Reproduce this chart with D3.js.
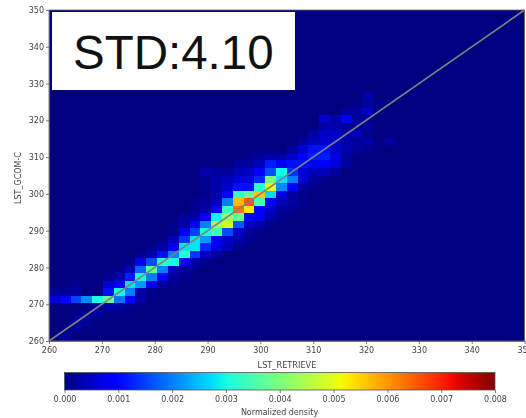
<!DOCTYPE html>
<html><head><meta charset="utf-8">
<script src="https://cdn.jsdelivr.net/npm/d3@7"></script>
<style>html,body{margin:0;padding:0;background:#fff;overflow:hidden}svg{display:block;filter:blur(.35px)}text{font-family:"DejaVu Sans"}</style>
</head><body><svg id="c" width="526" height="418"></svg>
<script>
const axisTicks = [260,270,280,290,300,310,320,330,340,350];
const colorTicks = [0,0.001,0.002,0.003,0.004,0.005,0.006,0.007,0.008];
const binCount = 44;
const densityUnit = 1e-4;
const xTitle = "LST_RETRIEVE", yTitle = "LST_GCOM-C", colorTitle = "Normalized density", stdLabel = "STD:4.10";
// [row, first column, densities in units of 1e-4]
const densityRows = [
 [0,1,[2]],[1,2,[2]],[2,2,[2,2]],[3,2,[1,2,2]],[4,4,[2,3,2,1]],
 [5,0,[6,10,15,21,30,38,19,10,3]],
 [6,0,[2,1,2,0,0,11,30,20,3,1]],
 [7,2,[1,0,0,6,8,28,22,8,2,1]],
 [8,5,[1,3,12,30,20,8,2,1]],
 [9,6,[1,4,18,36,20,4,2,1]],
 [10,7,[1,8,16,32,30,10,3,1]],
 [11,8,[1,3,11,20,31,14,5,2]],
 [12,9,[1,2,8,28,28,13,7,4,1]],
 [13,10,[1,4,14,28,22,10,5,3,1]],
 [14,11,[1,8,15,30,34,16,5,2,1]],
 [15,11,[1,3,8,20,44,48,17,5,3,1]],
 [16,12,[2,3,8,29,43,38,10,8,3,1]],
 [17,13,[1,3,10,34,63,53,9,5,2,1]],
 [18,13,[1,2,4,20,57,66,35,10,4,2,1]],
 [19,14,[1,3,10,33,38,56,27,7,2,1]],
 [20,14,[1,3,5,11,11,32,51,21,10,2,1]],
 [21,14,[1,3,4,6,6,13,40,28,20,6,2,1]],
 [22,14,[3,2,2,4,5,9,16,30,14,6,4,4,2]],
 [23,17,[2,2,4,12,8,11,11,9,10,6,2]],
 [24,18,[1,2,3,3,5,9,12,12,7,2]],
 [25,22,[2,6,11,11,5,3,2,1]],
 [26,23,[2,4,5,5,3,2,3,0,2]],
 [27,24,[3,5,5,3,4,1]],
 [28,25,[3,3,2,1,2]],
 [29,25,[5,3,8,2,1]],
 [30,27,[2,2,5]],
 [31,28,[1,2,1]],
 [32,29,[3]]
];
const lineEnds = [260,350];

const svg = d3.select("#c");
const x = d3.scaleLinear().domain([260,350]).range([49,524.6]);
const y = d3.scaleLinear().domain([260,350]).range([341,10]);
const binW = 90/binCount;
const ch = (d,r)=>d3.scaleLinear().domain(d).range(r).clamp(true);
const R = ch([0,.35,.66,.89,1],[0,0,1,1,.5]), G = ch([0,.125,.375,.64,.91,1],[0,0,1,1,0,0]), B = ch([0,.11,.34,.65,1],[.5,1,1,0,0]);
const jet = t=>d3.rgb(R(t)*255,G(t)*255,B(t)*255).formatHex();
const color = d3.scaleLinear().domain([0,0.008]).range([0,1]);
const ink = "#444";

svg.append("rect").attr("x",x(260)).attr("y",y(350)).attr("width",x(350)-x(260)).attr("height",y(260)-y(350)).attr("fill",jet(0));
const cells = densityRows.flatMap(([j,i0,vals])=>vals.map((v,k)=>({i:i0+k,j,v:v*densityUnit})));
svg.append("g").attr("shape-rendering","crispEdges").selectAll("rect").data(cells).join("rect")
  .attr("x",d=>x(260+d.i*binW)).attr("width",d=>x(260+(d.i+1)*binW)-x(260+d.i*binW))
  .attr("y",d=>y(260+(d.j+1)*binW)).attr("height",d=>y(260+d.j*binW)-y(260+(d.j+1)*binW))
  .attr("fill",d=>jet(color(d.v)));
svg.append("line").attr("x1",x(lineEnds[0])).attr("y1",y(lineEnds[0])).attr("x2",x(lineEnds[1])).attr("y2",y(lineEnds[1])).attr("stroke","#808080").attr("stroke-width",1.6);

function style(g){g.selectAll("text").attr("font-size",8).attr("fill",ink);g.selectAll("line").attr("stroke",ink).attr("stroke-width",.7);g.selectAll(".domain").attr("stroke","#666").attr("stroke-width",.8);}
svg.append("g").attr("transform",`translate(0,${y(260)})`).call(d3.axisBottom(x).tickValues(axisTicks).tickFormat(d3.format("d")).tickSize(3).tickPadding(3).tickSizeOuter(0)).call(style);
svg.append("g").attr("transform",`translate(${x(260)},0)`).call(d3.axisLeft(y).tickValues(axisTicks).tickFormat(d3.format("d")).tickSize(3).tickPadding(2).tickSizeOuter(0)).call(style);
svg.append("rect").attr("x",x(260)).attr("y",y(350)).attr("width",x(350)-x(260)).attr("height",y(260)-y(350)).attr("fill","none").attr("stroke","#666").attr("stroke-width",.8);
svg.append("text").attr("x",287).attr("y",368).attr("text-anchor","middle").attr("font-size",8.2).attr("fill",ink).text(xTitle);
svg.append("text").attr("transform","translate(21,178) rotate(-90)").attr("text-anchor","middle").attr("font-size",8).attr("fill",ink).text(yTitle);

svg.append("rect").attr("x",52).attr("y",12).attr("width",243).attr("height",78).attr("fill","#fff");
svg.append("text").attr("x",73).attr("y",69).attr("font-size",47.5).attr("fill","#111").style("font-family","Liberation Sans").text(stdLabel);

const cx = d3.scaleLinear().domain([0,0.008]).range([64.5,495]);
const grad = svg.append("defs").append("linearGradient").attr("id","jetg");
grad.selectAll("stop").data(d3.range(0,1.0001,0.02)).join("stop").attr("offset",d=>d).attr("stop-color",jet);
svg.append("rect").attr("x",cx(0)).attr("y",372.5).attr("width",cx(0.008)-cx(0)).attr("height",17.5).attr("fill","url(#jetg)").attr("stroke","#555").attr("stroke-width",.8);
svg.append("g").attr("transform","translate(0,390)").call(d3.axisBottom(cx).tickValues(colorTicks).tickFormat(d3.format(".3f")).tickSize(3).tickPadding(3).tickSizeOuter(0)).call(style).select(".domain").remove();
svg.append("text").attr("x",279.5).attr("y",415).attr("text-anchor","middle").attr("font-size",8).attr("fill",ink).text(colorTitle);
</script></body></html>
